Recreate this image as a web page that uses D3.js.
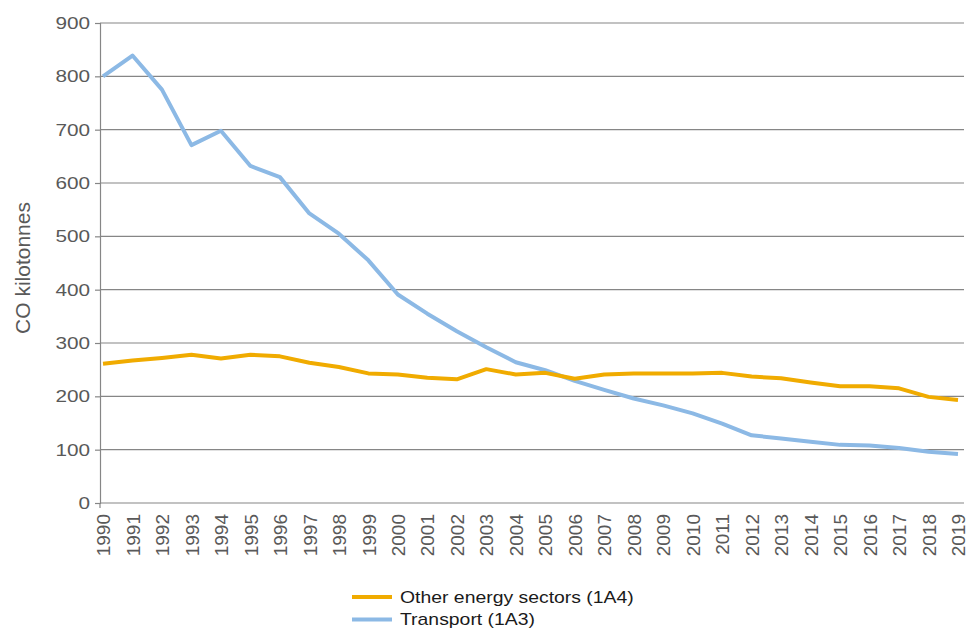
<!DOCTYPE html>
<html>
<head>
<meta charset="utf-8">
<script src="https://cdn.jsdelivr.net/npm/d3@7/dist/d3.min.js"></script>
<style>
  body { margin: 0; background: #fff; }
  svg { font-family: "Liberation Sans", Arial, sans-serif; }
</style>
</head>
<body>
<svg id="chart" width="969" height="630"></svg>
<script>
const years = d3.range(1990, 2020).map(String)
const otherEnergy = [261, 267, 272, 278, 271, 278, 275, 263, 255, 243, 241, 235, 232, 251, 241, 244, 233, 241, 243, 243, 243, 244, 237, 234, 226, 219, 219, 215, 199, 193]
const transport = [800, 839, 775, 671, 698, 632, 611, 543, 505, 455, 391, 355, 322, 292, 264, 249, 229, 212, 196, 183, 168, 149, 127, 121, 115, 109, 108, 103, 96, 92]
const yTicks = [0, 100, 200, 300, 400, 500, 600, 700, 800, 900]
const seriesNames = ["Other energy sectors (1A4)", "Transport (1A3)"]
const colors = ["#f0ab00", "#8cb9e5"]

const dims = { left: 100, right: 964, top: 23, bottom: 503 }

const svg = d3.select("#chart")

// the source image is a bit wide, so horizontal text gets stretched
const stretch = (sel, k) => sel.each(function () {
  const len = this.getComputedTextLength()
  d3.select(this).attr("textLength", len * k).attr("lengthAdjust", "spacingAndGlyphs")
})

const x = d3.scalePoint().domain(years).range([103, 958])
const y = d3.scaleLinear().domain([0, 900]).range([dims.bottom, dims.top])

// gridlines
svg.append("g").selectAll("line").data(yTicks).join("line")
  .attr("x1", dims.left).attr("x2", dims.right)
  .attr("y1", d => y(d)).attr("y2", d => y(d))
  .attr("stroke", "#868686").attr("stroke-width", 1.2)

// y axis
const yAxis = d3.axisLeft(y).tickValues(yTicks).tickSize(5).tickPadding(5)
const yG = svg.append("g").attr("transform", `translate(${dims.left},0)`).call(yAxis)
yG.select(".domain").attr("stroke", "#868686").attr("stroke-width", 1.2)
yG.selectAll(".tick line").attr("stroke", "#868686").attr("stroke-width", 1.2)
yG.selectAll("text").attr("fill", "#595959").style("font-size", "17px").call(stretch, 1.22)

// x axis labels
const xAxis = d3.axisBottom(x).tickSize(0).tickPadding(0)
const xG = svg.append("g").attr("transform", `translate(0,${dims.bottom})`).call(xAxis)
xG.select(".domain").remove()
xG.selectAll("text")
  .attr("fill", "#595959").style("font-size", "19px")
  .attr("text-anchor", "end")
  .attr("transform", "rotate(-90)")
  .attr("x", -11).attr("y", 0).attr("dy", "0.35em")
svg.append("line").attr("x1", dims.left).attr("x2", dims.left)
  .attr("y1", dims.bottom).attr("y2", dims.bottom + 5)
  .attr("stroke", "#868686").attr("stroke-width", 1.2)

// y title
svg.append("text")
  .attr("transform", `translate(30,268) rotate(-90)`)
  .attr("text-anchor", "middle")
  .attr("fill", "#595959").style("font-size", "21px")
  .text("CO kilotonnes")

const line = d3.line().x((d, i) => x(years[i])).y(d => y(d))

svg.append("path").datum(transport)
  .attr("d", line).attr("fill", "none")
  .attr("stroke", colors[1]).attr("stroke-width", 4).attr("stroke-linejoin", "round")
svg.append("path").datum(otherEnergy)
  .attr("d", line).attr("fill", "none")
  .attr("stroke", colors[0]).attr("stroke-width", 4).attr("stroke-linejoin", "round")

// legend
const legend = svg.append("g").attr("transform", "translate(352,597)")
seriesNames.forEach((name, i) => {
  const g = legend.append("g").attr("transform", `translate(0,${i * 22.5})`)
  g.append("line").attr("x1", 0).attr("x2", 40).attr("y1", 0).attr("y2", 0)
    .attr("stroke", colors[i]).attr("stroke-width", 4)
  g.append("text").attr("x", 48).attr("dy", "0.35em")
    .attr("fill", "#1a1a1a").style("font-size", "17px").text(name).call(stretch, 1.14)
})
</script>
</body>
</html>
